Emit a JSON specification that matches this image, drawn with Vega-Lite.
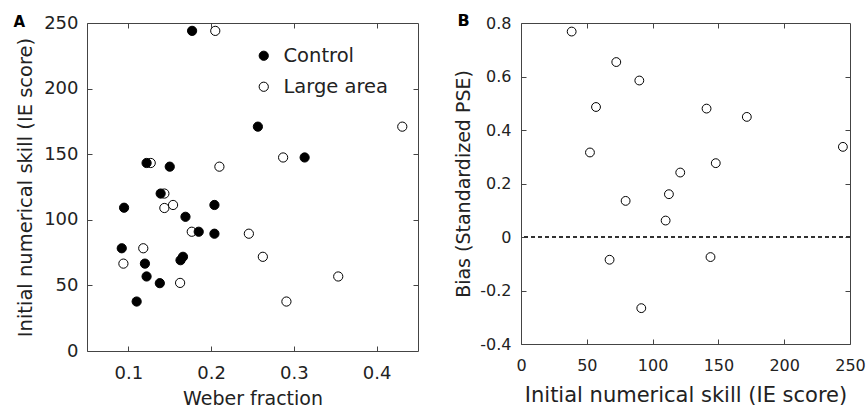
{
  "$schema": "https://vega.github.io/schema/vega-lite/v6.json",
  "background": "white",
  "padding": {"left": 12, "top": 12, "right": 4, "bottom": 0},
  "spacing": 35,
  "config": {
    "font": "DejaVu Sans",
    "view": {"stroke": "#444", "strokeWidth": 1},
    "axis": {"domain": false, "grid": false, "labelFlush": false, "labelOverlap": false, "tickColor": "#444", "tickSize": -5, "tickWidth": 1, "labelColor": "#222", "titleColor": "#222", "titleFontWeight": "normal", "labelFont": "DejaVu Sans", "titleFont": "DejaVu Sans"},
    "legend": {"labelFont": "DejaVu Sans"}
  },
  "hconcat": [
    {
      "width": 331,
      "height": 328,
      "data": {"values": [
        {"group": "Large area", "weber": 0.205, "skill": 244},
        {"group": "Large area", "weber": 0.431, "skill": 171},
        {"group": "Large area", "weber": 0.287, "skill": 147.5},
        {"group": "Large area", "weber": 0.127, "skill": 143.3},
        {"group": "Large area", "weber": 0.210, "skill": 140.5},
        {"group": "Large area", "weber": 0.1435, "skill": 120},
        {"group": "Large area", "weber": 0.1435, "skill": 109},
        {"group": "Large area", "weber": 0.154, "skill": 111.3},
        {"group": "Large area", "weber": 0.1766, "skill": 90.9},
        {"group": "Large area", "weber": 0.2456, "skill": 89.4},
        {"group": "Large area", "weber": 0.118, "skill": 78.3},
        {"group": "Large area", "weber": 0.094, "skill": 66.6},
        {"group": "Large area", "weber": 0.2625, "skill": 71.8},
        {"group": "Large area", "weber": 0.1625, "skill": 51.9},
        {"group": "Large area", "weber": 0.3536, "skill": 56.8},
        {"group": "Large area", "weber": 0.291, "skill": 37.7},
        {"group": "Control", "weber": 0.177, "skill": 244},
        {"group": "Control", "weber": 0.2565, "skill": 171},
        {"group": "Control", "weber": 0.313, "skill": 147.5},
        {"group": "Control", "weber": 0.122, "skill": 143.3},
        {"group": "Control", "weber": 0.150, "skill": 140.5},
        {"group": "Control", "weber": 0.139, "skill": 120},
        {"group": "Control", "weber": 0.0948, "skill": 109.2},
        {"group": "Control", "weber": 0.204, "skill": 111.3},
        {"group": "Control", "weber": 0.169, "skill": 102.3},
        {"group": "Control", "weber": 0.185, "skill": 90.9},
        {"group": "Control", "weber": 0.204, "skill": 89.4},
        {"group": "Control", "weber": 0.092, "skill": 78.3},
        {"group": "Control", "weber": 0.120, "skill": 66.6},
        {"group": "Control", "weber": 0.166, "skill": 71.8},
        {"group": "Control", "weber": 0.163, "skill": 69.2},
        {"group": "Control", "weber": 0.122, "skill": 56.8},
        {"group": "Control", "weber": 0.138, "skill": 51.7},
        {"group": "Control", "weber": 0.110, "skill": 37.7}
      ]},
      "layer": [
        {
          "mark": {"type": "point", "shape": "circle", "filled": true, "size": 85, "stroke": "black", "strokeWidth": 1, "opacity": 1},
          "encoding": {
            "x": {"field": "weber", "type": "quantitative", "scale": {"domain": [0.05, 0.45], "nice": false, "zero": false},
                  "axis": {"orient": "bottom", "values": [0.1, 0.2, 0.3, 0.4], "format": ".1f", "title": "Weber fraction", "labelFontSize": 18, "titleFontSize": 19, "labelPadding": 18, "titlePadding": 7}},
            "y": {"field": "skill", "type": "quantitative", "scale": {"domain": [0, 250], "nice": false},
                  "axis": {"orient": "left", "values": [0, 50, 100, 150, 200, 250], "format": "d", "title": "Initial numerical skill (IE score)", "labelFontSize": 18, "titleFontSize": 19.5, "labelPadding": 14, "titlePadding": 8}},
            "fill": {"field": "group", "type": "nominal", "scale": {"domain": ["Control", "Large area"], "range": ["black", "white"]},
                     "legend": {"orient": "none", "legendX": 167, "legendY": 23, "title": null, "labelFontSize": 19.5, "labelColor": "#222", "symbolType": "circle", "symbolSize": 85, "symbolStrokeColor": "black", "symbolStrokeWidth": 1, "labelOffset": 10, "rowPadding": 10}}
          }
        },
        {
          "mark": {"type": "point", "opacity": 0},
          "encoding": {
            "x": {"field": "weber", "type": "quantitative", "axis": {"orient": "top", "values": [0.1, 0.2, 0.3, 0.4], "labels": false, "title": "A", "titleX": -74, "titleY": 3, "titleAngle": 0, "titleAlign": "left", "titleBaseline": "alphabetic", "titleFontSize": 15, "titleFontWeight": "bold", "titleColor": "black"}},
            "y": {"field": "skill", "type": "quantitative", "axis": {"orient": "right", "values": [50, 100, 150, 200], "labels": false, "title": null}}
          }
        }
      ],
      "resolve": {"axis": {"x": "independent", "y": "independent"}}
    },
    {
      "width": 329,
      "height": 321,
      "data": {"values": [
        {"skill": 38.5, "bias": 0.768},
        {"skill": 72.4, "bias": 0.654},
        {"skill": 89.9, "bias": 0.585},
        {"skill": 57, "bias": 0.486},
        {"skill": 141, "bias": 0.48},
        {"skill": 171.6, "bias": 0.449},
        {"skill": 244.6, "bias": 0.337},
        {"skill": 52.4, "bias": 0.316},
        {"skill": 148, "bias": 0.276},
        {"skill": 121, "bias": 0.241},
        {"skill": 112.4, "bias": 0.16},
        {"skill": 79.5, "bias": 0.135},
        {"skill": 109.9, "bias": 0.0615},
        {"skill": 67.3, "bias": -0.085},
        {"skill": 144, "bias": -0.075},
        {"skill": 91.4, "bias": -0.266}
      ]},
      "layer": [
        {
          "mark": {"type": "rule", "strokeDash": [4, 3], "color": "#333", "strokeWidth": 1},
          "encoding": {"y": {"datum": 0, "type": "quantitative", "axis": null}}
        },
        {
          "mark": {"type": "point", "shape": "circle", "filled": true, "fill": "white", "size": 78, "stroke": "black", "strokeWidth": 1, "opacity": 1},
          "encoding": {
            "x": {"field": "skill", "type": "quantitative", "scale": {"domain": [0, 250], "nice": false},
                  "axis": {"orient": "bottom", "values": [0, 50, 100, 150, 200, 250], "format": "d", "title": "Initial numerical skill (IE score)", "labelFontSize": 16, "titleFontSize": 21, "labelPadding": 18, "titlePadding": 11}},
            "y": {"field": "bias", "type": "quantitative", "scale": {"domain": [-0.4, 0.8], "nice": false, "zero": false},
                  "axis": {"orient": "left", "values": [-0.4, -0.2, 0, 0.2, 0.4, 0.6, 0.8], "labelExpr": "datum.value == 0 ? '0' : (datum.value < 0 ? '-' + format(-datum.value, '.1f') : format(datum.value, '.1f'))", "title": "Bias (Standardized PSE)", "labelFontSize": 16, "titleFontSize": 19, "labelPadding": 15, "titlePadding": 6}}
          }
        },
        {
          "mark": {"type": "point", "opacity": 0},
          "encoding": {
            "x": {"field": "skill", "type": "quantitative", "axis": {"orient": "top", "values": [50, 100, 150, 200], "labels": false, "title": "B", "titleX": -64, "titleY": 2.5, "titleAngle": 0, "titleAlign": "left", "titleBaseline": "alphabetic", "titleFontSize": 16, "titleFontWeight": "bold", "titleColor": "black"}},
            "y": {"field": "bias", "type": "quantitative", "axis": {"orient": "right", "values": [-0.2, 0, 0.2, 0.4, 0.6], "labels": false, "title": null}}
          }
        }
      ],
      "resolve": {"axis": {"x": "independent", "y": "independent"}}
    }
  ]
}
